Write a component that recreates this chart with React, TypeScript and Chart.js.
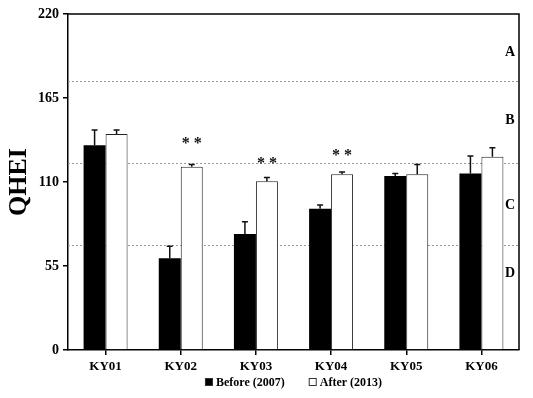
import React, { useEffect, useRef } from 'react';
import { Chart, registerables } from 'chart.js';

Chart.register(...registerables);

const categories = ['KY01', 'KY02', 'KY03', 'KY04', 'KY05', 'KY06'];
const seriesLabels = ['Before (2007)', 'After (2013)'];
const beforeValues = [134, 60, 76, 92.5, 114, 115.5];
const afterValues = [141.5, 120, 110.5, 115, 115, 126.5];
const beforeErrors = [10, 8, 8, 2.5, 1.5, 11.5];
const afterErrors = [2.5, 1.5, 2.5, 1.5, 6.5, 6];
const significance = ['', '**', '**', '**', '', ''];
const significanceValues = [0, 137, 124, 129, 0, 0];
const zoneThresholds = [176, 122.5, 69];
const zoneLabels = ['A', 'B', 'C', 'D'];
const zoneLabelValues = [195, 150.5, 95, 50];
const yTicks = [0, 55, 110, 165, 220];

const FONT = "'Times New Roman', 'Liberation Serif', serif";

export default function App() {
  const ref = useRef<HTMLCanvasElement>(null);

  useEffect(() => {
    if (!ref.current) return;

    const overlay = {
      id: 'overlay',
      beforeDatasetsDraw(chart: any) {
        const { ctx, chartArea, scales } = chart;
        const y = scales.y;
        ctx.save();
        ctx.strokeStyle = '#9a9a9a';
        ctx.lineWidth = 1;
        ctx.setLineDash([2, 2]);
        zoneThresholds.forEach((v) => {
          const py = Math.round(y.getPixelForValue(v)) + 0.5;
          ctx.beginPath();
          ctx.moveTo(chartArea.left, py);
          ctx.lineTo(chartArea.right, py);
          ctx.stroke();
        });
        ctx.restore();
      },
      afterDatasetsDraw(chart: any) {
        const { ctx, chartArea, scales } = chart;
        const y = scales.y;
        ctx.save();
        // error bars
        const errs = [beforeErrors, afterErrors];
        const vals = [beforeValues, afterValues];
        ctx.strokeStyle = '#111';
        ctx.lineWidth = 1.5;
        for (let d = 0; d < 2; d++) {
          const meta = chart.getDatasetMeta(d);
          meta.data.forEach((bar: any, i: number) => {
            const top = y.getPixelForValue(vals[d][i]);
            const et = y.getPixelForValue(vals[d][i] + errs[d][i]);
            const x = bar.x;
            ctx.beginPath();
            ctx.moveTo(x, top);
            ctx.lineTo(x, et);
            ctx.moveTo(x - 3, et);
            ctx.lineTo(x + 3, et);
            ctx.stroke();
          });
        }
        // significance
        const metaAfter = chart.getDatasetMeta(1);
        ctx.fillStyle = '#111';
        ctx.font = `bold 16px ${FONT}`;
        ctx.textAlign = 'center';
        ctx.textBaseline = 'middle';
        significance.forEach((s, i) => {
          if (!s) return;
          const bar: any = metaAfter.data[i];
          ctx.fillText(s.split('').join(' '), bar.x, y.getPixelForValue(significanceValues[i]) + 3);
        });
        // zone letters
        ctx.fillStyle = '#000';
        ctx.font = `bold 14px ${FONT}`;
        zoneLabels.forEach((l, i) => {
          ctx.fillText(l, chartArea.right - 9, y.getPixelForValue(zoneLabelValues[i]));
        });
        // frame top/right
        ctx.strokeStyle = '#000';
        ctx.lineWidth = 1.5;
        ctx.beginPath();
        ctx.moveTo(chartArea.left, chartArea.top);
        ctx.lineTo(chartArea.right, chartArea.top);
        ctx.lineTo(chartArea.right, chartArea.bottom);
        ctx.stroke();
        // legend
        ctx.font = `bold 12px ${FONT}`;
        ctx.textAlign = 'left';
        const box = 8;
        const gap = 3;
        const itemGap = 24;
        const widths = seriesLabels.map((l) => box + gap + ctx.measureText(l).width);
        const total = widths.reduce((a, b) => a + b, 0) + itemGap * (widths.length - 1);
        let x = (chartArea.left + chartArea.right) / 2 - total / 2;
        const ly = 382;
        chart.data.datasets.forEach((ds: any, i: number) => {
          ctx.fillStyle = ds.backgroundColor;
          ctx.fillRect(x, ly - box / 2, box, box);
          ctx.strokeStyle = '#333';
          ctx.lineWidth = 1;
          ctx.strokeRect(x + 0.5, ly - box / 2 + 0.5, box - 1, box - 1);
          ctx.fillStyle = '#000';
          ctx.fillText(ds.label, x + box + gap, ly + 1);
          x += widths[i] + itemGap;
        });
        ctx.restore();
      },
    };

    const chart = new Chart(ref.current, {
      type: 'bar',
      data: {
        labels: categories,
        datasets: [
          {
            label: seriesLabels[0],
            data: beforeValues,
            backgroundColor: '#000000',
            borderColor: '#000000',
            borderWidth: 0,
            categoryPercentage: 0.585,
            barPercentage: 1,
          },
          {
            label: seriesLabels[1],
            data: afterValues,
            backgroundColor: '#ffffff',
            borderColor: '#222222',
            borderWidth: 1,
            categoryPercentage: 0.585,
            barPercentage: 1,
          },
        ],
      },
      options: {
        animation: false,
        responsive: false,
        maintainAspectRatio: false,
        layout: { padding: { left: 0, right: 14, top: 14, bottom: 0 } },
        plugins: {
          legend: { display: false },
          tooltip: { enabled: false },
        },
        scales: {
          x: {
            grid: {
              display: true,
              drawOnChartArea: false,
              drawTicks: true,
              tickLength: 5,
              color: '#000',
              offset: false,
              lineWidth: 1.5,
            },
            border: { display: true, color: '#000', width: 1.5 },
            ticks: {
              color: '#000',
              padding: 4,
              font: { family: FONT, size: 13, weight: 'bold' },
            },
            afterFit: (s: any) => {
              s.height = 48;
            },
          },
          y: {
            min: 0,
            max: 220,
            grid: {
              display: true,
              drawOnChartArea: false,
              drawTicks: true,
              tickLength: 5,
              color: '#000',
              lineWidth: 1.5,
            },
            border: { display: true, color: '#000', width: 1.5 },
            afterBuildTicks: (s: any) => {
              s.ticks = yTicks.map((v) => ({ value: v }));
            },
            ticks: {
              color: '#000',
              padding: 4,
              font: { family: FONT, size: 14, weight: 'bold' },
            },
            title: {
              display: true,
              text: 'QHEI',
              color: '#000',
              padding: { top: 4, bottom: 0 },
              font: { family: FONT, size: 26, weight: 'bold' },
            },
            afterFit: (s: any) => {
              s.width = 68;
            },
          },
        },
      },
      plugins: [overlay],
    });

    return () => chart.destroy();
  }, []);

  return (
    <div style={{ position: 'fixed', left: 0, top: 0, width: 533, height: 398, background: '#fff' }}>
      <canvas ref={ref} width={533} height={398} style={{ width: 533, height: 398 }} />
    </div>
  );
}
